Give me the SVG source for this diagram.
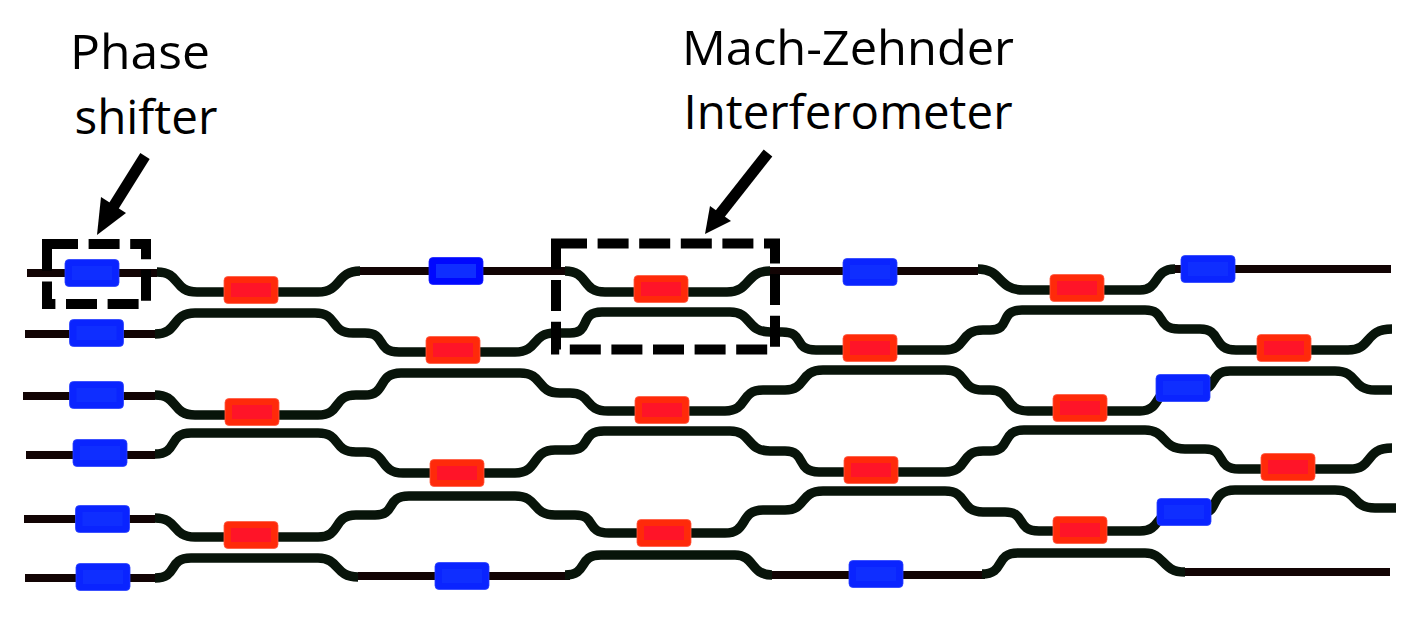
<svg xmlns="http://www.w3.org/2000/svg" width="1418" height="634" viewBox="0 0 1418 634">
<style>
.bg{fill:#fff}
.d{fill:none;stroke:#120404;stroke-width:8}
.g{fill:none;stroke:#08140a;stroke-width:9.5}
.b{fill:#0a24ff;stroke:#2a40ff;stroke-width:.8}
.b2{fill:#0008ff;stroke:#1a20ff;stroke-width:.8}
.bi{fill:#0f2eff}
.r{fill:#ff2a0a;stroke:#ff5a40;stroke-width:.8}
.ri{fill:#ff1428}
.box{fill:none;stroke:#000;stroke-width:10;stroke-dasharray:31 10.6}
.arrow{stroke:#000;stroke-width:11;fill:none}
.head{fill:#000}
text{font-family:"Open Sans","Liberation Sans",sans-serif;font-size:48px;fill:#000;text-anchor:middle}
</style>
<defs>
<g id="blue"><rect class="b" x="-27" y="-13.5" width="54" height="27" rx="4"/><rect class="bi" x="-20" y="-7" width="40" height="14"/></g>
<g id="blue2"><rect class="b2" x="-27" y="-13.5" width="54" height="27" rx="4"/><rect class="bi" x="-20" y="-7" width="40" height="14"/></g>
<g id="red"><rect class="r" x="-27" y="-13.5" width="54" height="27" rx="4"/><rect class="ri" x="-20" y="-7" width="40" height="14"/></g>
</defs>
<rect class="bg" width="1418" height="634"/>
<g id="connectors">
<path class="d" d="M27 273H157M360 271H565M770 271H978M1173 269H1391"/>
<path class="g" d="M157 272C181 272 173 292 197 292H318C342 292 336 271 360 271"/>
<path class="g" d="M565 271C589 271 581 292 605 292H727C751 292 745 271 770 271"/>
<path class="g" d="M978 269C1002 269 998 290 1023 290H1140C1160 290 1153 269 1175 269"/>
<path class="d" d="M25 334H155"/>
<path class="g" d="M155 334C179 334 171 313 195 313H315C339 313 329 333 353 333H365C387 333 375 352 399 352H515C539 352 531 333 555 333H570C592 333 578 312 602 312H730C752 312 746 332 770 332H782C806 332 792 350 816 350H945C967 350 959 330 983 330H990C1012 330 998 310 1022 310H1145C1167 310 1155 329 1179 329H1200C1222 329 1212 350 1236 350H1348C1372 350 1364 329 1392 329"/>
<path class="d" d="M23 396H155"/>
<path class="g" d="M155 395C179 395 171 415 195 415H318C342 415 332 395 356 395H365C387 395 377 373 401 373H520C544 373 536 393 560 393H570C592 393 584 411 608 411H725C749 411 739 390 763 390H785C807 390 799 370 823 370H945C969 370 959 390 983 390H990C1012 390 1004 411 1028 411H1140C1162 411 1154 388 1176 388H1205C1215 388 1211 371 1230 371H1335C1359 371 1351 390 1375 390H1392"/>
<path class="d" d="M26 455H155"/>
<path class="g" d="M155 454C179 454 167 433 191 433H318C342 433 332 452 356 452H365C387 452 379 473 403 473H515C539 473 531 450 555 450H570C592 450 580 431 604 431H730C752 431 746 451 770 451H785C807 451 795 472 819 472H945C969 472 959 451 983 451H990C1012 451 1000 430 1024 430H1145C1167 430 1161 449 1185 449H1205C1227 449 1215 469 1239 469H1350C1374 469 1364 448 1392 448"/>
<path class="d" d="M24 519H155"/>
<path class="g" d="M155 518C179 518 171 537 195 537H318C342 537 332 515 356 515H375C397 515 385 496 409 496H515C539 496 531 515 555 515H575C597 515 585 533 609 533H725C749 533 739 510 763 510H785C807 510 799 491 823 491H945C969 491 959 512 983 512H1005C1027 512 1015 531 1039 531H1140C1162 531 1154 512 1176 512H1205C1218 512 1211 490 1235 490H1335C1359 490 1351 508 1375 508H1396"/>
<path class="d" d="M25 578H155M358 576H570M772 575H985M1185 572H1390"/>
<path class="g" d="M155 578C179 578 167 558 191 558H318C340 558 334 577 358 577"/>
<path class="g" d="M565 575C589 575 577 555 601 555H735C755 555 750 575 772 575"/>
<path class="g" d="M982 574C1006 574 994 553 1018 553H1145C1165 553 1161 572 1185 572"/>
</g>
<g id="ps-1"><use href="#blue" x="92" y="273"/></g>
<g id="ps-2"><use href="#blue" x="96.5" y="333"/></g>
<g id="ps-3"><use href="#blue" x="96.5" y="395"/></g>
<g id="ps-4"><use href="#blue" x="100" y="453"/></g>
<g id="ps-5"><use href="#blue" x="102.5" y="519"/></g>
<g id="ps-6"><use href="#blue" x="103" y="577"/></g>
<g id="ps-7"><use href="#blue2" x="456" y="271"/></g>
<g id="ps-8"><use href="#blue" x="462" y="576"/></g>
<g id="ps-9"><use href="#blue" x="870" y="272"/></g>
<g id="ps-10"><use href="#blue" x="876" y="574"/></g>
<g id="ps-11"><use href="#blue" x="1208" y="269"/></g>
<g id="ps-12"><use href="#blue" x="1183" y="388"/></g>
<g id="ps-13"><use href="#blue" x="1184" y="512"/></g>
<g id="mz-1"><use href="#red" x="251" y="290"/></g>
<g id="mz-2"><use href="#red" x="453" y="350"/></g>
<g id="mz-3"><use href="#red" x="252" y="412"/></g>
<g id="mz-4"><use href="#red" x="457" y="473"/></g>
<g id="mz-5"><use href="#red" x="251" y="535"/></g>
<g id="mz-6"><use href="#red" x="661" y="289"/></g>
<g id="mz-7"><use href="#red" x="662" y="410"/></g>
<g id="mz-8"><use href="#red" x="664" y="533"/></g>
<g id="mz-9"><use href="#red" x="870" y="348"/></g>
<g id="mz-10"><use href="#red" x="871" y="470"/></g>
<g id="mz-11"><use href="#red" x="1077" y="288"/></g>
<g id="mz-12"><use href="#red" x="1080" y="408"/></g>
<g id="mz-13"><use href="#red" x="1080" y="530"/></g>
<g id="mz-14"><use href="#red" x="1284" y="348"/></g>
<g id="mz-15"><use href="#red" x="1288" y="467"/></g>
<g id="callout-phase">
<rect class="box" x="47" y="244" width="99" height="60"/>
<path class="arrow" d="M145 156L110 212"/>
<polygon class="head" points="97,235 101,197 126,213"/>
<text x="140" y="69" textLength="140" lengthAdjust="spacingAndGlyphs">Phase</text>
<text x="146" y="134" textLength="143" lengthAdjust="spacingAndGlyphs">shifter</text>
</g>
<g id="callout-mzi">
<rect class="box" x="556" y="243.5" width="219" height="106"/>
<path class="arrow" d="M768 153L716 219"/>
<polygon class="head" points="705,234 710,206 731,221"/>
<text x="848" y="65" textLength="332" lengthAdjust="spacingAndGlyphs">Mach-Zehnder</text>
<text x="848" y="129" textLength="329" lengthAdjust="spacingAndGlyphs">Interferometer</text>
</g>
</svg>
